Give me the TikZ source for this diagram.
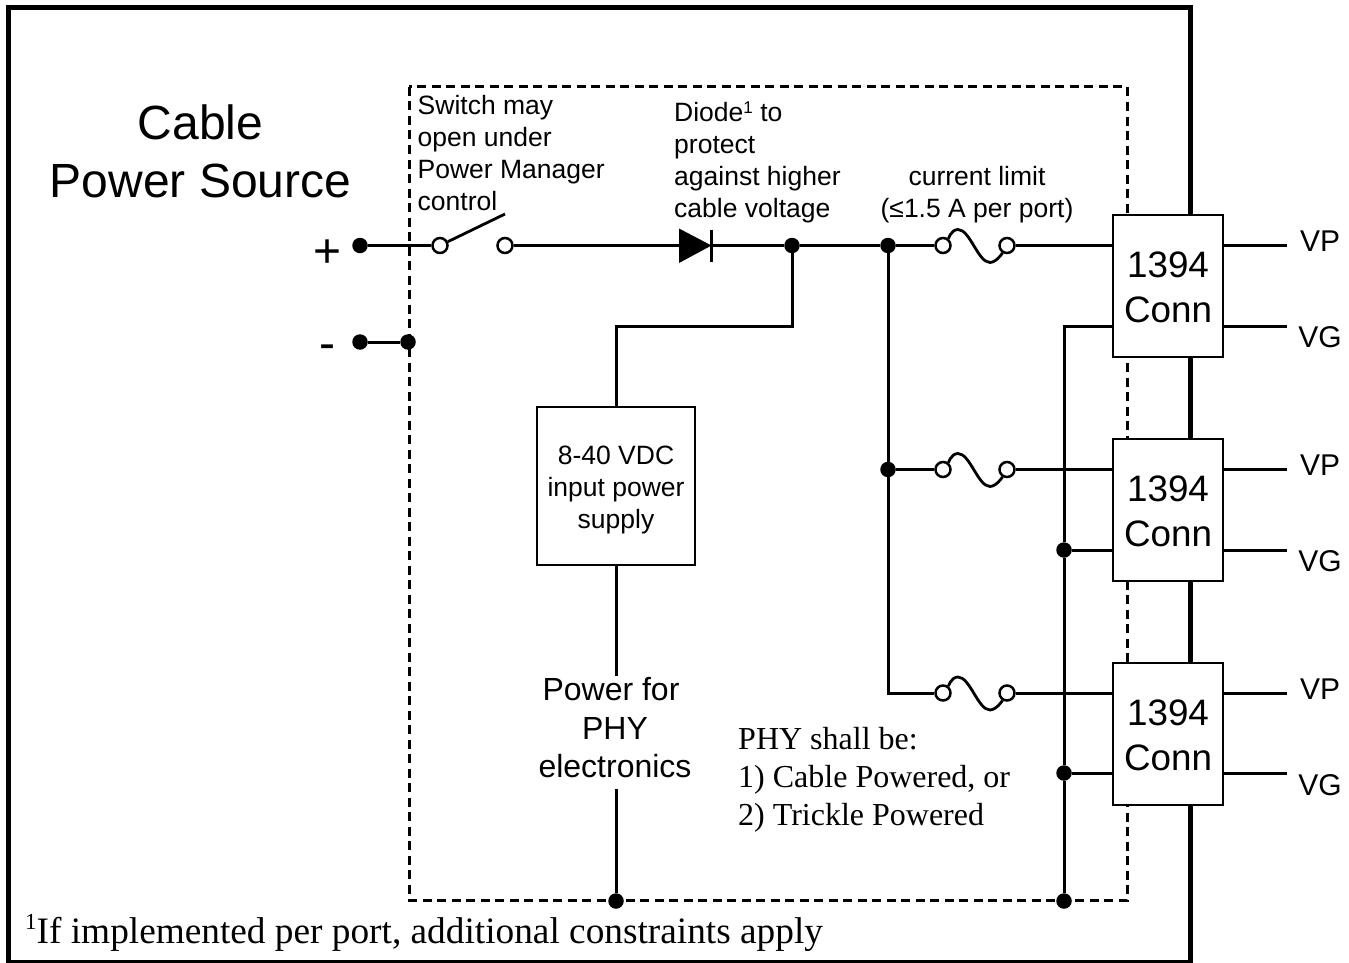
\documentclass[tikz,border=0pt]{standalone}
\usepackage{fontspec}
\setmainfont{Liberation Sans}
\newfontfamily\serifface{Liberation Serif}
\newcommand{\fs}[2]{\fontsize{#1pt}{#2pt}\selectfont}
\newcommand{\connlabel}{\rule{0pt}{28.5pt}1394\\Conn}
\begin{document}
\begin{tikzpicture}[x=1pt,y=-1pt,
  wire/.style={line width=3pt,line cap=butt},
  junction/.style={circle,fill=black,draw=none,minimum size=15.5pt,inner sep=0pt},
  terminal/.style={circle,fill=white,draw=black,line width=2.5pt,minimum size=15pt,inner sep=0pt},
  connbox/.style={draw=black,fill=white,line width=2.8pt,minimum width=110pt,minimum height=142pt,inner sep=0pt,align=center,font=\fs{36.8}{45.5}},
  smalltext/.style={inner sep=0pt,font=\fs{26.5}{32},align=left},
  porttext/.style={inner sep=0pt,font=\fs{30}{36}}
]
\useasboundingbox[fill=white] (0,0) rectangle (1349,963);
% frame and dashed boundary
\draw[line width=5pt] (8,8) rectangle (1190,962);
\draw[line width=3pt,dash pattern=on 9pt off 5.5pt] (409,87) rectangle (1127,900);

% labels
\node[inner sep=0pt,font=\fs{48}{58},align=center] (title) at (200.5,151) {Cable\\Power Source};
\node[inner sep=0pt,font=\fs{48}{58}] (plus) at (328,254) {+};
\node[inner sep=0pt,font=\fs{48}{58}] (minus) at (327,352) {-};
\node[smalltext,anchor=west] (switchtext) at (417.5,153) {Switch may\\open under\\Power Manager\\control};
\node[smalltext,anchor=west] (diodetext) at (674,162) {Diode\raisebox{8pt}{\fs{17}{20}1} to\\protect\\against higher\\cable voltage};
\node[smalltext,align=center] (limittext) at (977,195) {current limit\\(≤1.5 A per port)};
\node[inner sep=0pt,font={\serifface\fs{32}{38}},align=left,anchor=west] (phytext) at (738,780) {PHY shall be:\\1) Cable Powered, or\\2) Trickle Powered};
\node[inner sep=0pt,font={\serifface\fs{37.3}{40}},anchor=base west] (foot) at (25,943) {\raisebox{14pt}{\fs{23}{25}1}If implemented per port, additional constraints apply};

% junctions and terminals
\node[junction] (jplus) at (360,245.5) {};
\node[junction] (jminusa) at (360,342) {};
\node[junction] (jminusb) at (408,342) {};
\node[terminal] (swa) at (440,245.5) {};
\node[terminal] (swb) at (505,245.5) {};
\coordinate (lever) at (505,214);
\coordinate (diodea) at (680,245.5);
\coordinate (diodek) at (711.5,245.5);
\node[junction] (jdiode) at (792,245.5) {};
\node[junction] (jtop) at (888,245.5) {};
\node[junction] (jmid) at (888,469.5) {};
\coordinate (jlow) at (888,693);
\node[terminal] (fal) at (943,245.5) {};
\node[terminal] (far) at (1007,245.5) {};
\node[terminal] (fbl) at (943,469.5) {};
\node[terminal] (fbr) at (1007,469.5) {};
\node[terminal] (fcl) at (943,693) {};
\node[terminal] (fcr) at (1007,693) {};
\node[draw=black,fill=white,line width=2.8pt,minimum size=158pt,inner sep=0pt] (psu) at (616,486) {};
\node[inner sep=0pt,font=\fs{26.5}{32},align=center] (psutext) at (616,490) {8-40 VDC\\input power\\supply};
\node[inner sep=0pt,font=\fs{32}{38.5},align=center] (phypower) at (615,728) {Power for\hspace*{8pt}\\PHY\\electronics};
\node[junction] (jpsu) at (616,901) {};
\node[junction] (jgnd) at (1064,901) {};
\node[junction] (jgb) at (1064,550) {};
\node[junction] (jgc) at (1064,773) {};
\node[connbox] (conna) at (1168,286) {\connlabel};
\node[connbox] (connb) at (1168,510) {\connlabel};
\node[connbox] (connc) at (1168,734) {\connlabel};
\coordinate (gndtop) at (1064,326);
\coordinate (vpa) at (1287,245.5);
\coordinate (vga) at (1287,326);
\coordinate (vpb) at (1287,469.5);
\coordinate (vgb) at (1287,550);
\coordinate (vpc) at (1287,693);
\coordinate (vgc) at (1287,773);
\node[porttext] (lvpa) at (1320,241) {VP};
\node[porttext] (lvga) at (1320,337) {VG};
\node[porttext] (lvpb) at (1320,465) {VP};
\node[porttext] (lvgb) at (1320,561) {VG};
\node[porttext] (lvpc) at (1320,689) {VP};
\node[porttext] (lvgc) at (1320,785) {VG};

% main line
\draw[wire] (jplus) -- (swa);
\draw[wire,line width=2.8pt] (swa) -- (lever);
\draw[wire] (swb) -- (diodea);
\fill (679,228.5) -- (679,263) -- (711.5,245.5) -- cycle;
\draw[wire] (711.5,229.5) -- (711.5,262);
\draw[wire] (diodek) -- (jdiode);
\draw[wire] (jdiode) -- (jtop);
\draw[wire] (jtop) -- (fal);
\draw[wire] (jminusa) -- (jminusb);
% supply branch
\draw[wire] (jdiode) |- (616,326) -- (psu.north);
\draw[wire] (psu.south) -- ([yshift=2pt]phypower.north -| psu.south);
\draw[wire] ([yshift=-11pt]phypower.south -| psu.south) -- (jpsu);
% current limit rail
\draw[wire] (jtop) -- (jmid);
\draw[wire] (jmid) -- (jlow) -- (fcl);
\draw[wire] (jmid) -- (fbl);
% fuses
\foreach \l/\r in {fal/far,fbl/fbr,fcl/fcr}{
  \draw[line width=2.8pt] (\l) .. controls +(5,-6) and +(-7,0) .. ++(15,-16)
     .. controls +(12,0) and +(-12,0) .. ++(32,33)
     .. controls +(7,0) and +(-3,5) .. (\r);
}
% ports
\draw[wire] (far) -- (far -| conna.west);
\draw[wire] (fbr) -- (fbr -| connb.west);
\draw[wire] (fcr) -- (fcr -| connc.west);
\draw[wire] (conna.east |- vpa) -- (vpa);
\draw[wire] (conna.east |- vga) -- (vga);
\draw[wire] (connb.east |- vpb) -- (vpb);
\draw[wire] (connb.east |- vgb) -- (vgb);
\draw[wire] (connc.east |- vpc) -- (vpc);
\draw[wire] (connc.east |- vgc) -- (vgc);
% ground rail
\draw[wire] (conna.west |- gndtop) -- (gndtop) -- (jgb);
\draw[wire] (jgb) -- (jgc);
\draw[wire] (jgc) -- (jgnd);
\draw[wire] (jgb) -- (connb.west |- jgb);
\draw[wire] (jgc) -- (connc.west |- jgc);
\end{tikzpicture}
\end{document}
